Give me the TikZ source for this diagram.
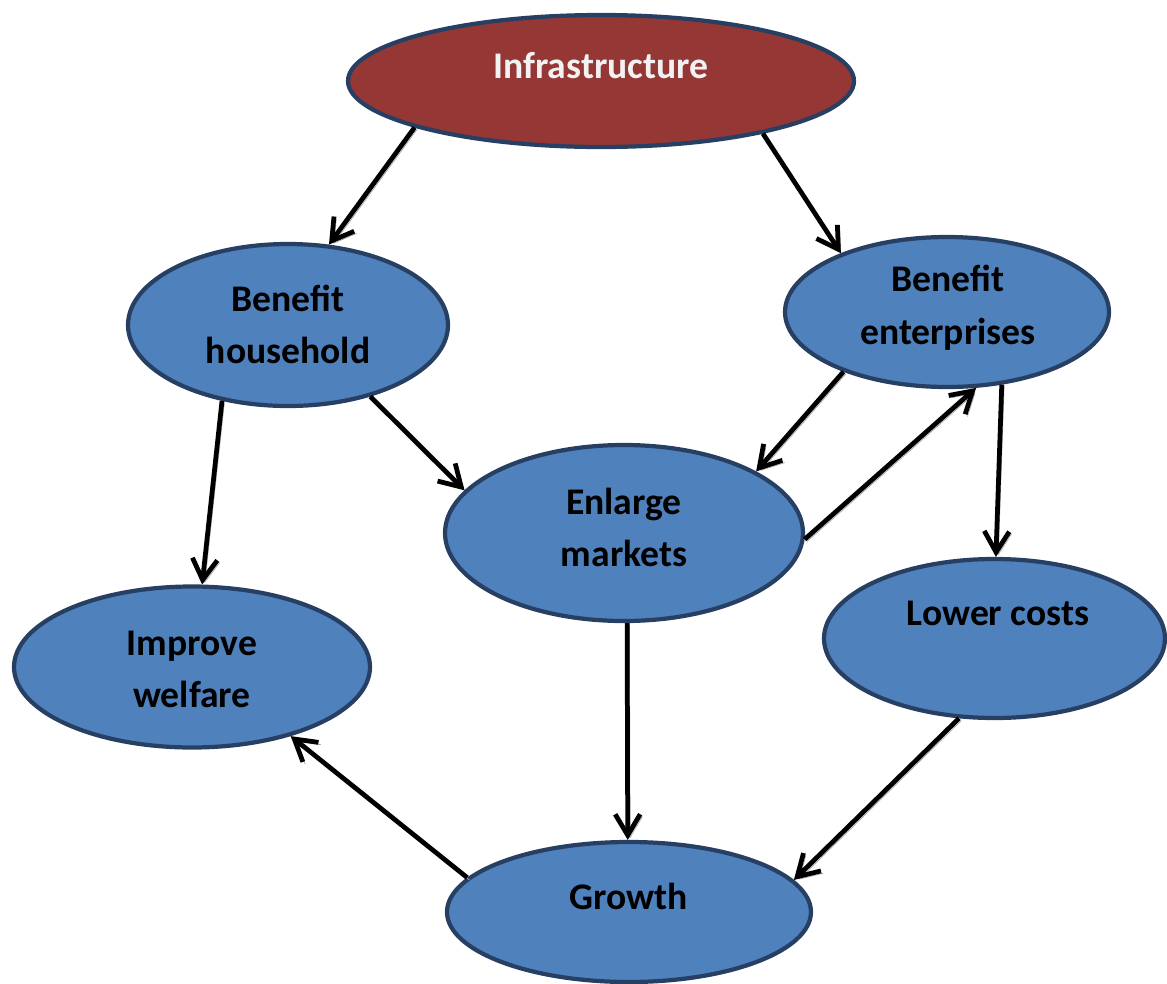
\documentclass[tikz,border=0pt]{standalone}
\usepackage{fontspec}
\setmainfont{Carlito}
\usetikzlibrary{arrows.meta,shapes.geometric}

\definecolor{ovalblue}{HTML}{4F81BD}
\definecolor{ovalline}{HTML}{263F62}
\definecolor{ovalred}{HTML}{953735}

\tikzset{
  bubble/.style={ellipse, draw=ovalline, line width=2.4pt, fill=ovalblue, inner sep=0pt},
  lbl/.style={align=center, font=\fontsize{21.4}{30}\selectfont\bfseries},
  flow/.style={line width=2.7pt, -{Straight Barb[length=4.2mm,width=5mm]},
    preaction={draw=black!35, transform canvas={shift={(1.3pt,-1.3pt)}}}}
}

\begin{document}
\begin{tikzpicture}
				\useasboundingbox (0,0) rectangle (23.34,-19.68);
				
				\node[bubble, fill=ovalred, minimum width=10.12cm, minimum height=2.64cm] (infra) at (12.02,-1.62) {};
				\node[lbl, text=white!95!black] (infrat) at (12.02,-1.32) {Infrastructure};
				
				\node[bubble, minimum width=6.4cm, minimum height=3.24cm] (bh) at (5.76,-6.5) {};
				\node[lbl] (bht) at (5.76,-6.49) {Benefit\\household};
				
				\node[bubble, minimum width=6.48cm, minimum height=3.0cm] (be) at (18.94,-6.24) {};
				\node[lbl] (bet) at (18.96,-6.16) {Benefit\\enterprises};
				
				\node[bubble, minimum width=7.16cm, minimum height=3.52cm] (em) at (12.48,-10.66) {};
				\node[lbl] (emt) at (12.48,-10.55) {Enlarge\\markets};
				
				\node[bubble, minimum width=6.82cm, minimum height=3.18cm] (lc) at (19.89,-12.77) {};
				\node[lbl] (lct) at (19.96,-12.26) {Lower costs};
				
				\node[bubble, minimum width=7.12cm, minimum height=3.22cm] (iw) at (3.84,-13.34) {};
				\node[lbl] (iwt) at (3.84,-13.39) {Improve\\welfare};
				
				\node[bubble, minimum width=7.28cm, minimum height=2.8cm] (g) at (12.58,-18.24) {};
				\node[lbl] (gt) at (12.58,-17.92) {Growth};
				
				\draw[flow] (infra.194.9) -- (bh.63.7);
				\draw[flow] (infra.-18) -- (be.151);
				\draw[flow] (bh.-41.6) -- (em.165.9);
				\draw[flow] (bh.229) -- (iw.83.9);
				\draw[flow] (be.210) -- (em.25.5);
				\draw[flow] (em.-2.2) -- (be.-69.9);
				\draw[flow] (be.-53.7) -- (lc.89.3);
				\draw[flow] (em.-88.1) -- (g.91.6);
				\draw[flow] (lc.246.8) -- (g.11);
				\draw[flow] (g.168.4) -- (iw.-35.7);
			\end{tikzpicture}
\end{document}
